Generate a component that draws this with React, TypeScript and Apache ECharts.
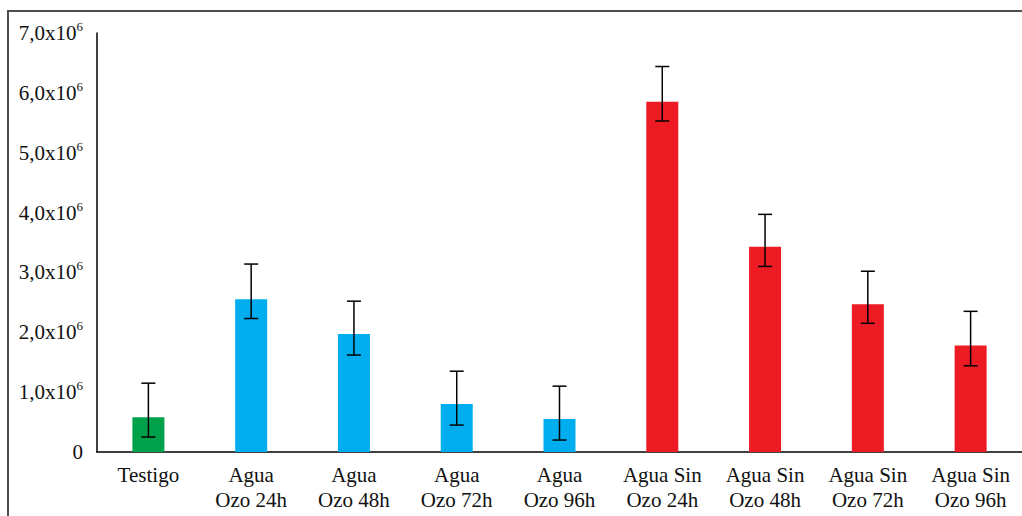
import React, { useEffect, useRef } from "react";
import * as echarts from "echarts";

const categories = [
  "Testigo",
  "Agua\nOzo 24h",
  "Agua\nOzo 48h",
  "Agua\nOzo 72h",
  "Agua\nOzo 96h",
  "Agua Sin\nOzo 24h",
  "Agua Sin\nOzo 48h",
  "Agua Sin\nOzo 72h",
  "Agua Sin\nOzo 96h",
];
const means = [0.58e6, 2.55e6, 1.97e6, 0.8e6, 0.55e6, 5.85e6, 3.43e6, 2.47e6, 1.78e6];
const errLow = [0.25e6, 2.23e6, 1.62e6, 0.45e6, 0.2e6, 5.53e6, 3.1e6, 2.15e6, 1.44e6];
const errHigh = [1.15e6, 3.14e6, 2.52e6, 1.35e6, 1.1e6, 6.44e6, 3.97e6, 3.02e6, 2.35e6];
const barColors = [
  "#00A14B",
  "#00AEEF", "#00AEEF", "#00AEEF", "#00AEEF",
  "#ED1C24", "#ED1C24", "#ED1C24", "#ED1C24",
];
const yTickLabels: Record<number, string> = {
  0: "0",
  1: "1,0x10",
  2: "2,0x10",
  3: "3,0x10",
  4: "4,0x10",
  5: "5,0x10",
  6: "6,0x10",
  7: "7,0x10",
};

const FONT = "Liberation Serif";

export default function App() {
  const ref = useRef<HTMLDivElement>(null);
  useEffect(() => {
    document.body.style.margin = "0";
    const chart = echarts.init(ref.current!, undefined, { renderer: "svg" });
    chart.setOption({
      animation: false,
      backgroundColor: "#ffffff",
      textStyle: { fontFamily: FONT },
      grid: { left: 97, top: 33, bottom: 64, width: 930.5, containLabel: false },
      graphic: [
        {
          type: "rect",
          shape: { x: 8, y: 11, width: 1100, height: 600 },
          style: { fill: "none", stroke: "#4d4d4d", lineWidth: 2 },
          silent: true,
          z: 100,
        },
      ],
      xAxis: {
        type: "category",
        data: categories,
        axisLine: { show: true, lineStyle: { color: "#000", width: 1.5 } },
        axisTick: { show: false },
        axisLabel: {
          interval: 0,
          color: "#111",
          fontFamily: FONT,
          fontSize: 21,
          lineHeight: 25,
          margin: 10,
        },
      },
      yAxis: {
        type: "value",
        min: 0,
        max: 7e6,
        interval: 1e6,
        splitLine: { show: false },
        axisTick: { show: false },
        axisLine: { show: true, lineStyle: { color: "#000", width: 1.5 } },
        axisLabel: {
          margin: 14,
          fontFamily: FONT,
          formatter: (v: number) => {
            const k = Math.round(v / 1e6);
            if (k === 0) return "{a|0}";
            return "{a|" + yTickLabels[k] + "}{b|6}";
          },
          rich: {
            a: { fontFamily: FONT, fontSize: 21, lineHeight: 26, color: "#111" },
            b: {
              fontFamily: FONT,
              fontSize: 13,
              lineHeight: 21,
              verticalAlign: "top",
              color: "#111",
            },
          },
        },
      },
      series: [
        {
          type: "bar",
          barWidth: 32,
          data: means.map((v, i) => ({ value: v, itemStyle: { color: barColors[i] } })),
        },
        {
          type: "custom",
          data: errLow.map((lo, i) => [i, lo, errHigh[i]]),
          renderItem: (params: any, api: any) => {
            const idx = api.value(0);
            const hi = api.coord([idx, api.value(2)]);
            const lo = api.coord([idx, api.value(1)]);
            const hw = 7;
            const style = { stroke: "#000", lineWidth: 1.5 };
            return {
              type: "group",
              children: [
                { type: "line", shape: { x1: hi[0], y1: hi[1], x2: lo[0], y2: lo[1] }, style },
                { type: "line", shape: { x1: hi[0] - hw, y1: hi[1], x2: hi[0] + hw, y2: hi[1] }, style },
                { type: "line", shape: { x1: lo[0] - hw, y1: lo[1], x2: lo[0] + hw, y2: lo[1] }, style },
              ],
            };
          },
          z: 10,
        },
      ],
    });
    return () => chart.dispose();
  }, []);
  return <div ref={ref} style={{ width: 1022, height: 516 }} />;
}
